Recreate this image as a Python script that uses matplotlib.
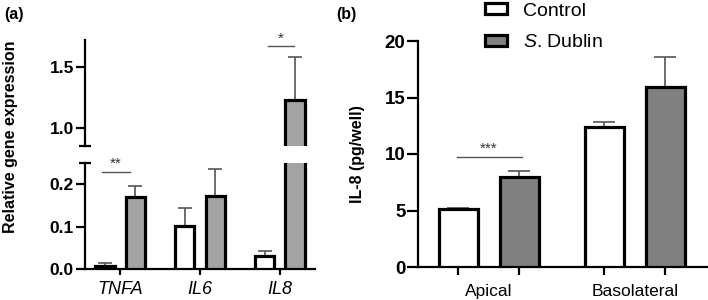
import numpy as np
import matplotlib
matplotlib.use('Agg')
import matplotlib.pyplot as plt
from matplotlib.patches import Patch

plt.rcParams['font.family'] = ['Liberation Sans', 'DejaVu Sans']
plt.rcParams['mathtext.fontset'] = 'custom'
plt.rcParams['mathtext.it'] = 'Liberation Sans:italic'
plt.rcParams['mathtext.rm'] = 'Liberation Sans'

# panel (a) - gene expression
genes = ['TNFA', 'IL6', 'IL8']
ctrl_a = [0.007, 0.102, 0.030]
ctrl_a_err = [0.006, 0.043, 0.013]
dub_a = [0.169, 0.171, 1.23]
dub_a_err = [0.027, 0.065, 0.35]

# panel (b) - IL-8 secretion
sites = ['Apical', 'Basolateral']
ctrl_b = [5.1, 12.4]
ctrl_b_err = [0.15, 0.4]
dub_b = [8.0, 15.9]
dub_b_err = [0.5, 2.7]

W, H = 708, 300
fig = plt.figure(figsize=(W / 100, H / 100), dpi=100)

def fx(px):
    return px / W

def fy(py):
    return 1 - py / H

axl = fig.add_axes([fx(85), fy(269), fx(315 - 85), fy(163) - fy(269)])
axu = fig.add_axes([fx(85), fy(146), fx(315 - 85), fy(40) - fy(146)])
axb = fig.add_axes([fx(418), fy(267), fx(707 - 418), fy(41) - fy(267)])

edge_lw = 2.3
spine_lw = 1.6
gray_a = '#a3a3a3'
gray_b = '#808080'
errc = '#555555'

x = np.arange(len(genes))
bw, off = 0.24, 0.19
for ax in (axl, axu):
    ax.bar(x - off, ctrl_a, bw, color='white', edgecolor='black', linewidth=edge_lw, zorder=3,
           yerr=[np.zeros(3), ctrl_a_err], error_kw=dict(ecolor=errc, elinewidth=1.2, capsize=5, capthick=1.2, zorder=2))
    ax.bar(x + off, dub_a, bw, color=gray_a, edgecolor='black', linewidth=edge_lw, zorder=3,
           yerr=[np.zeros(3), dub_a_err], error_kw=dict(ecolor=errc, elinewidth=1.2, capsize=5, capthick=1.2, zorder=2))
    ax.set_xlim(-0.44, 2.44)
    for s in ('top', 'right'):
        ax.spines[s].set_visible(False)
    ax.spines['left'].set_linewidth(spine_lw)
    ax.tick_params(axis='y', width=spine_lw, length=6.5, labelsize=12.5, pad=1.5)

axl.set_ylim(0, 0.25)
axl.set_yticks([0.0, 0.1, 0.2])
axl.set_yticklabels(['0.0', '0.1', '0.2'], fontweight='bold')
axl.spines['bottom'].set_linewidth(spine_lw)
axl.set_xticks(x)
axl.set_xticklabels(genes, fontstyle='italic', fontsize=13)
axl.tick_params(axis='x', width=spine_lw, length=4.5, pad=4)

axu.set_ylim(0.852, 1.72)
axu.set_yticks([1.0, 1.5])
axu.set_yticklabels(['1.0', '1.5'], fontweight='bold')
axu.spines['bottom'].set_visible(False)
axu.set_xticks([])

# break caps on left spine
for ax, yy in ((axl, 1), (axu, 0)):
    ax.plot([-0.025, 0.025], [yy, yy], transform=ax.transAxes, color='black', lw=spine_lw, clip_on=False, solid_capstyle='butt')

# significance
axl.plot([-0.225, 0.125], [0.229, 0.229], color=errc, lw=1)
axl.text(-0.05, 0.231, '**', ha='center', va='bottom', fontsize=11, color='#333333')
axu.plot([1.85, 2.175], [1.672, 1.672], color=errc, lw=1)
axu.text(2.01, 1.675, '*', ha='center', va='bottom', fontsize=11, color='#333333')

fig.text(fx(11), fy(137), 'Relative gene expression', rotation=90, ha='center', va='center',
         fontsize=11.5, fontweight='bold')
fig.text(fx(4), fy(15), '(a)', ha='left', va='center', fontsize=11.5, fontweight='bold')
fig.text(fx(336), fy(15), '(b)', ha='left', va='center', fontsize=11.5, fontweight='bold')

# panel (b)
xb_ctrl = np.array([0.0, 2.39])
xb_dub = xb_ctrl + 1.0
bwb = 0.64
axb.bar(xb_ctrl, ctrl_b, bwb, color='white', edgecolor='black', linewidth=edge_lw, zorder=3,
        yerr=[np.zeros(2), ctrl_b_err], error_kw=dict(ecolor=errc, elinewidth=1.2, capsize=8, capthick=1.2, zorder=2))
axb.bar(xb_dub, dub_b, bwb, color=gray_b, edgecolor='black', linewidth=edge_lw, zorder=3,
        yerr=[np.zeros(2), dub_b_err], error_kw=dict(ecolor=errc, elinewidth=1.2, capsize=8, capthick=1.2, zorder=2))
axb.set_xlim(-0.66, 4.07)
axb.set_ylim(0, 20)
axb.set_yticks([0, 5, 10, 15, 20])
axb.set_yticklabels(['0', '5', '10', '15', '20'], fontweight='bold')
for s in ('top', 'right'):
    axb.spines[s].set_visible(False)
for s in ('left', 'bottom'):
    axb.spines[s].set_linewidth(spine_lw)
axb.tick_params(axis='y', width=spine_lw, length=8, labelsize=13.5, pad=1)
axb.set_xticks(np.concatenate([xb_ctrl, xb_dub]))
axb.set_xticklabels([])
axb.set_xticks((xb_ctrl + xb_dub) / 2, minor=True)
axb.set_xticklabels(sites, minor=True, fontsize=12.5)
axb.tick_params(axis='x', which='major', width=spine_lw, length=6)
axb.tick_params(axis='x', which='minor', length=0, pad=12)
axb.set_ylabel('IL-8 (pg/well)', fontsize=11.5, fontweight='bold', labelpad=14)

axb.plot([-0.02, 1.04], [9.73, 9.73], color=errc, lw=1)
axb.text(0.5, 9.8, '***', ha='center', va='bottom', fontsize=11, color='#333333')

handles = [Patch(facecolor='white', edgecolor='black', linewidth=2.3),
           Patch(facecolor=gray_b, edgecolor='black', linewidth=2.3)]
fig.legend(handles, ['Control', r'$\it{S}$. Dublin'], loc='upper left',
           bbox_to_anchor=(fx(477), fy(-5)), frameon=False, fontsize=14,
           handlelength=1.15, handleheight=0.5, labelspacing=0.75, handletextpad=0.8, borderaxespad=0)

fig.savefig('out.png', dpi=100)
